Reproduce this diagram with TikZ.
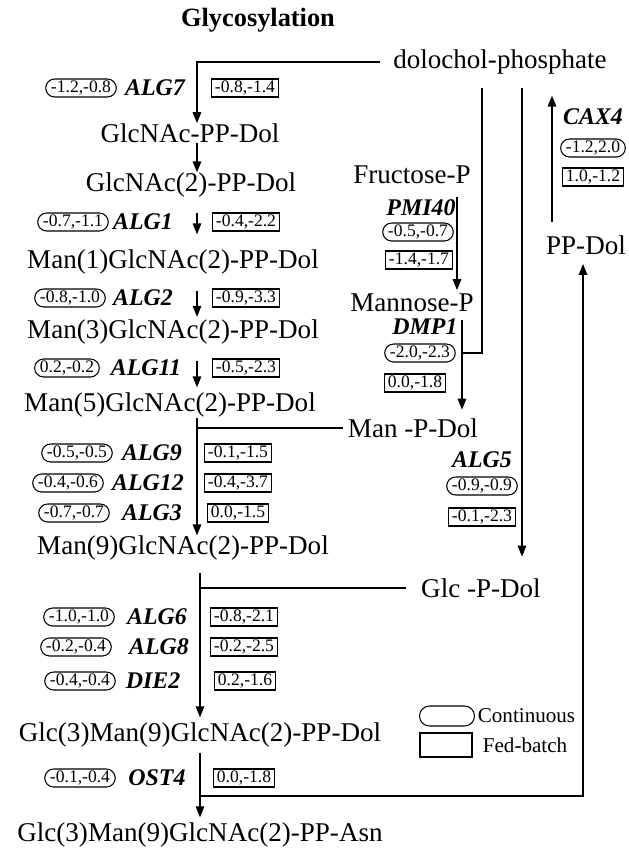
\documentclass[tikz,border=0pt]{standalone}
\usepackage{fontspec}
\setmainfont{Liberation Serif}
\usetikzlibrary{arrows.meta, positioning, calc}

\begin{document}
\begin{tikzpicture}[
  metabolita/.style={inner sep=0pt, font=\fontsize{15.4}{18}\selectfont},
  gene/.style={inner sep=0pt, font=\fontsize{13.6}{16}\selectfont\bfseries\itshape},
  continuo/.style={draw=black, line width=0.6pt, rounded corners=0.18cm,
                   minimum height=0.36cm, inner xsep=3pt, inner ysep=1pt,
                   font=\fontsize{10}{12}\selectfont},
  alimentato/.style={draw=black, line width=0.6pt, minimum height=0.36cm,
                     inner xsep=2pt, inner ysep=1pt, font=\fontsize{10}{12}\selectfont},
  legenda/.style={inner sep=0pt, font=\fontsize{12}{14}\selectfont},
  linea/.style={draw=black, line width=0.8pt},
  freccia/.style={draw=black, line width=0.8pt, -{Triangle[length=2.2mm,width=1.7mm]}}
]
\useasboundingbox (0,0) rectangle (12.58,-17.16);

% ---- colonne delle frecce ---------------------------------------------
\coordinate (colA) at (3.94,0);
\coordinate (colB) at (4.00,0);
\coordinate (pmix) at (9.14,0);
\coordinate (dmpx) at (9.24,0);
\coordinate (dolx) at (9.64,0);
\coordinate (alg5x) at (10.44,0);
\coordinate (caxx) at (11.04,0);
\coordinate (ppx) at (11.66,0);

% ---- metaboliti ---------------------------------------------------------
\node[font=\fontsize{15}{18}\selectfont\bfseries] (titolo) at (5.16,-0.40) {Glycosylation};
\node[metabolita] (dolp) at (10.00,-1.24) {dolochol-phosphate};
\node[metabolita] (glcnac) at (3.80,-2.66) {GlcNAc-PP-Dol};
\node[metabolita] (glcnac2) at (3.82,-3.70) {GlcNAc(2)-PP-Dol};
\node[metabolita] (man1) at (3.46,-5.24) {Man(1)GlcNAc(2)-PP-Dol};
\node[metabolita] (man3) at (3.46,-6.64) {Man(3)GlcNAc(2)-PP-Dol};
\node[metabolita] (man5) at (3.40,-8.10) {Man(5)GlcNAc(2)-PP-Dol};
\node[metabolita] (man9) at (3.66,-10.96) {Man(9)GlcNAc(2)-PP-Dol};
\node[metabolita] (glc3dol) at (4.00,-14.70) {Glc(3)Man(9)GlcNAc(2)-PP-Dol};
\node[metabolita] (glc3asn) at (4.00,-16.70) {Glc(3)Man(9)GlcNAc(2)-PP-Asn};
\node[metabolita] (fruc) at (8.24,-3.50) {Fructose-P};
\node[metabolita] (manp) at (8.24,-6.06) {Mannose-P};
\node[metabolita] (manpdol) at (8.26,-8.56) {Man -P-Dol};
\node[metabolita] (glcpdol) at (9.62,-11.76) {Glc -P-Dol};
\node[metabolita] (ppdol) at (11.72,-4.90) {PP-Dol};

% ---- geni e valori della colonna principale -----------------------------
\foreach \g/\y/\xc/\vc/\xg/\xf/\vf in {
  ALG7/-1.76/1.62/{-1.2,-0.8}/3.10/4.90/{-0.8,-1.4},
  ALG1/-4.44/1.46/{-0.7,-1.1}/2.86/4.92/{-0.4,-2.2},
  ALG2/-5.96/1.40/{-0.8,-1.0}/2.86/4.92/{-0.9,-3.3},
  ALG11/-7.36/1.34/{0.2,-0.2}/2.92/4.92/{-0.5,-2.3},
  ALG9/-9.06/1.54/{-0.5,-0.5}/3.04/4.76/{-0.1,-1.5},
  ALG12/-9.66/1.36/{-0.4,-0.6}/2.96/4.76/{-0.4,-3.7},
  ALG3/-10.26/1.48/{-0.7,-0.7}/3.04/4.76/{0.0,-1.5},
  ALG6/-12.34/1.58/{-1.0,-1.0}/3.14/4.88/{-0.8,-2.1},
  ALG8/-12.94/1.52/{-0.2,-0.4}/3.18/4.88/{-0.2,-2.5},
  DIE2/-13.62/1.60/{-0.4,-0.4}/3.06/4.90/{0.2,-1.6},
  OST4/-15.56/1.60/{-0.1,-0.4}/3.14/4.88/{0.0,-1.8}} {
  \node[continuo] (c\g) at (\xc,\y) {\vc};
  \node[gene] (g\g) at (\xg,\y) {\g};
  \node[alimentato] (f\g) at (\xf,\y) {\vf};
}

% ---- geni e valori del ramo destro --------------------------------------
\node[gene] (gPMI40) at (8.42,-4.16) {PMI40};
\node[continuo] (cPMI40) at (8.36,-4.64) {-0.5,-0.7};
\node[alimentato] (fPMI40) at (8.38,-5.20) {-1.4,-1.7};
\node[gene] (gDMP1) at (8.50,-6.54) {DMP1};
\node[continuo] (cDMP1) at (8.40,-7.06) {-2.0,-2.3};
\node[alimentato] (fDMP1) at (8.30,-7.66) {0.0,-1.8};
\node[gene] (gALG5) at (9.64,-9.20) {ALG5};
\node[continuo] (cALG5) at (9.64,-9.72) {-0.9,-0.9};
\node[alimentato] (fALG5) at (9.64,-10.34) {-0.1,-2.3};
\node[gene] (gCAX4) at (11.86,-2.34) {CAX4};
\node[continuo] (cCAX4) at (11.86,-2.96) {-1.2,2.0};
\node[alimentato] (fCAX4) at (11.86,-3.54) {1.0,-1.2};

% ---- legenda --------------------------------------------------------------
\node[continuo, minimum width=1.1cm, minimum height=0.4cm, rounded corners=0.2cm] (legc) at (8.94,-14.32) {};
\node[legenda, anchor=west] (legct) at ([xshift=0.05cm]legc.east) {Continuous};
\node[alimentato, minimum width=1.04cm, minimum height=0.48cm] (legf) at (8.92,-14.90) {};
\node[legenda, anchor=west] (legft) at ([xshift=0.2cm]legf.east) {Fed-batch};

% ---- frecce della colonna principale --------------------------------------
\draw[freccia, shorten <=0.25cm] (dolp.west) -| (glcnac.north -| colA);
\draw[freccia] (glcnac.south -| colA) -- (glcnac2.north -| colA);
\draw[freccia, shorten <=0.3cm, shorten >=0.3cm] (glcnac2.south -| colA) -- (man1.north -| colA);
\draw[freccia, shorten <=0.33cm, shorten >=0.05cm] (man1.south -| colA) -- (man3.north -| colA);
\draw[freccia, shorten <=0.33cm, shorten >=0.1cm] (man3.south -| colA) -- (man5.north -| colA);
\draw[freccia] (man5.south -| colA) -- (man9.north -| colA);
\draw[linea, shorten <=0.1cm] (manpdol.west) -- (manpdol.west -| colA);
\draw[freccia, shorten <=0.25cm, shorten >=0.1cm] (man9.south -| colB) -- (glc3dol.north -| colB);
\draw[linea, shorten <=0.3cm] (glcpdol.west) -- (glcpdol.west -| colB);
\draw[freccia, shorten <=0.1cm, shorten >=0.1cm] (glc3dol.south -| colB) -- (glc3asn.north -| colB);

% ---- ramo destro -------------------------------------------------------------
\coordinate (ostj) at (4.00,-15.92);
\coordinate (dmpj) at (9.24,-7.06);
\draw[freccia, shorten >=0.18cm] (ostj) -| (ppdol.south -| ppx);
\draw[freccia, shorten <=0.27cm, shorten >=0.42cm] (ppdol.north -| caxx) -- (dolp.south -| caxx);
\draw[linea, shorten <=0.26cm] (dolp.south -| dolx) |- (dmpj);
\draw[freccia, shorten <=0.26cm, shorten >=0.43cm] (dolp.south -| alg5x) -- (glcpdol.north -| alg5x);
\draw[freccia, shorten <=0.25cm, shorten >=0.07cm] (fruc.south -| pmix) -- (manp.north -| pmix);
\draw[freccia, shorten <=0.15cm, shorten >=0.17cm] (manp.south -| dmpx) -- (manpdol.north -| dmpx);

\end{tikzpicture}
\end{document}
